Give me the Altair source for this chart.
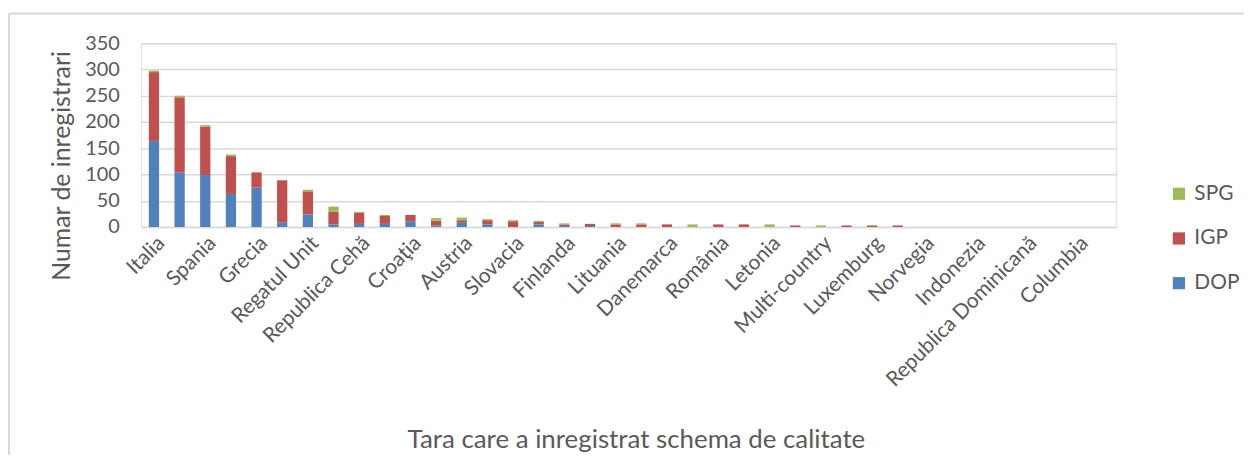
import altair as alt
import pandas as pd

countries = [
    "Italia", "Franța", "Spania", "Portugalia", "Grecia", "Germania",
    "Regatul Unit", "Polonia", "Republica Cehă", "Slovenia", "Croaţia", "Belgia",
    "Austria", "Bulgaria", "Slovacia", "Ungaria", "Finlanda", "Cipru",
    "Lituania", "Suedia", "Danemarca", "Țările de Jos", "România", "Irlanda",
    "Letonia", "Estonia", "Multi-country", "Malta", "Luxemburg", "Thailanda",
    "Norvegia", "Vietnam", "Indonezia", "China", "Republica Dominicană", "India",
    "Columbia", "Peru",
]
shown_labels = countries[::2]

dop = [164, 104, 99, 63, 75, 9, 24, 5, 6, 6, 11, 3, 8, 5, 0, 5, 2, 2,
       0, 0, 0, 0, 0, 0, 0, 0, 0, 0, 0, 0, 0, 0, 0, 0, 0, 0, 0, 0]
igp = [131, 143, 92, 72, 29, 80, 44, 24, 21, 15, 12, 9, 5, 8, 11, 5, 3, 4,
       5, 5, 5, 0, 5, 5, 0, 3, 0, 3, 3, 3, 0, 0, 0, 0, 0, 0, 0, 0]
spg = [3, 3, 3, 3, 0, 0, 3, 10, 2, 2, 0, 5, 5, 2, 2, 2, 2, 0,
       2, 2, 0, 5, 0, 0, 5, 0, 3, 0, 0, 0, 0, 0, 0, 0, 0, 0, 0, 0]

series = ["DOP", "IGP", "SPG"]
colors = {"DOP": "#4F81BD", "IGP": "#C0504D", "SPG": "#9BBB59"}

rows = []
for i, c in enumerate(countries):
    for k, (name, vals) in enumerate(zip(series, [dop, igp, spg])):
        rows.append({"Tara": c, "Schema": name, "Valoare": vals[i], "ord": k})
df = pd.DataFrame(rows)

FONT = "Lato"
GREY = "#595959"
FRAME = "#D9D9D9"

bars = alt.Chart(df).mark_bar().encode(
    x=alt.X(
        "Tara:N",
        sort=countries,
        scale=alt.Scale(paddingInner=0.6, paddingOuter=0.3),
        axis=alt.Axis(
            values=shown_labels,
            labelAngle=-45,
            labelFontSize=21,
            labelColor=GREY,
            labelFont=FONT,
            labelPadding=5,
            labelLimit=400,
            ticks=False,
            domain=True,
            domainColor=FRAME,
            domainWidth=1.5,
            title="Tara care a inregistrat schema de calitate",
            titleFontSize=26,
            titleFontWeight="normal",
            titleColor=GREY,
            titleFont=FONT,
            titleX=498,
            titleY=214,
            titleBaseline="middle",
            titleAlign="center",
            labelOverlap=False,
        ),
    ),
    y=alt.Y(
        "sum(Valoare):Q",
        scale=alt.Scale(domain=[0, 350], nice=False),
        axis=alt.Axis(
            values=[0, 50, 100, 150, 200, 250, 300, 350],
            labelFontSize=20,
            labelColor=GREY,
            labelFont=FONT,
            labelPadding=22,
            ticks=False,
            domain=False,
            gridColor=FRAME,
            gridWidth=1.5,
            title="Numar de inregistrari",
            titleFontSize=25,
            titleFontWeight="normal",
            titleColor=GREY,
            titleFont=FONT,
            titleAngle=-90,
            titleX=-80,
            titleY=123,
            titleBaseline="middle",
            titleAlign="center",
        ),
    ),
    color=alt.Color(
        "Schema:N",
        scale=alt.Scale(domain=["SPG", "IGP", "DOP"],
                        range=[colors["SPG"], colors["IGP"], colors["DOP"]]),
        legend=alt.Legend(
            title=None,
            orient="none",
            legendX=1034,
            legendY=141,
            symbolType="square",
            symbolSize=150,
            symbolStrokeWidth=0,
            labelFontSize=21,
            labelColor=GREY,
            labelFont=FONT,
            rowPadding=23,
            labelOffset=5,
        ),
    ),
    order=alt.Order("ord:Q", sort="ascending"),
)

frame_src = alt.Chart(pd.DataFrame({"k": [0]}))
frame_top = frame_src.mark_rule(color=FRAME, strokeWidth=2).encode(
    x=alt.value(-133), x2=alt.value(1120), y=alt.value(-30)
)
frame_left = frame_src.mark_rule(color=FRAME, strokeWidth=2).encode(
    x=alt.value(-133), y=alt.value(-30), y2=alt.value(430)
)

chart = alt.layer(bars, frame_top, frame_left).properties(
    width=981,
    height=185,
    autosize=alt.AutoSizeParams(type="none"),
    padding={"left": 134, "top": 34, "right": 129, "bottom": 228},
).configure_view(stroke=None).configure(background="white")

chart.save("out.html", embed_options={"renderer": "svg", "actions": False})
